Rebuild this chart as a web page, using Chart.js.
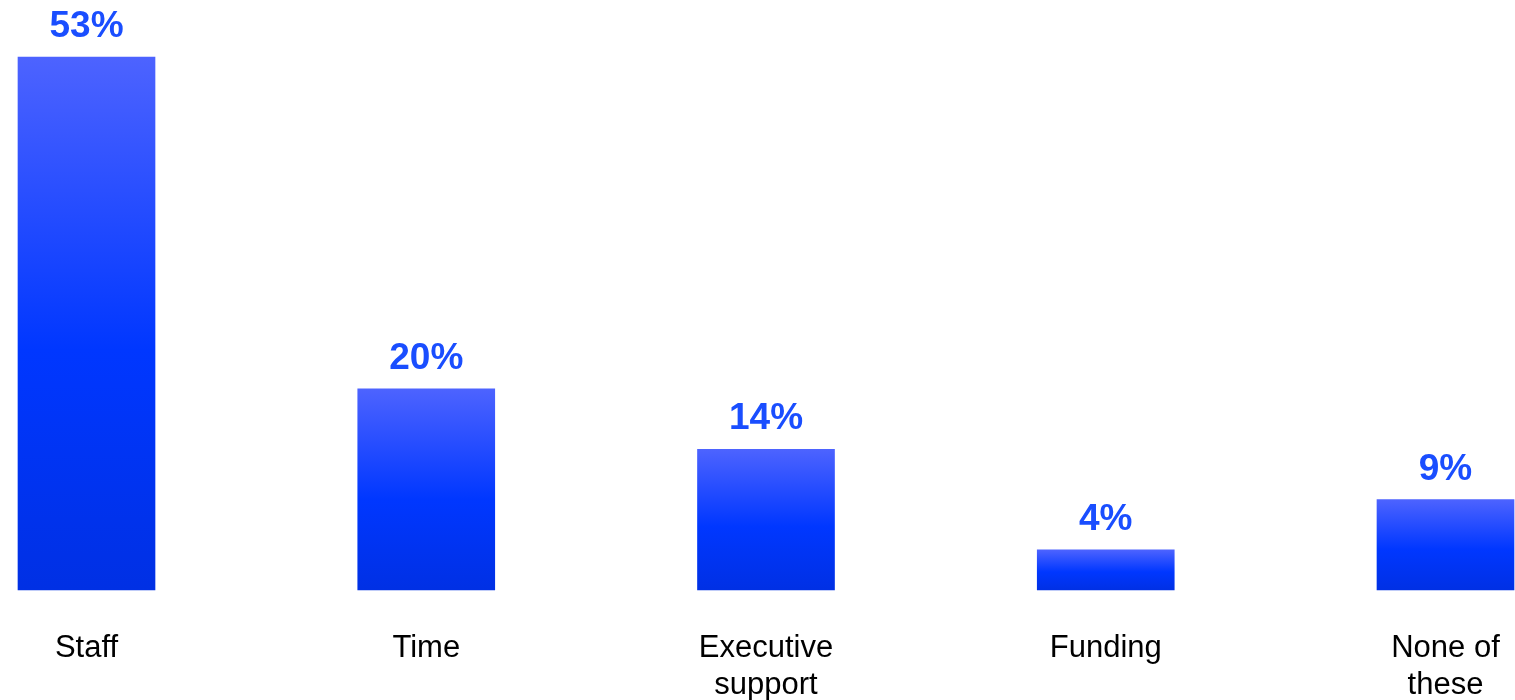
<!DOCTYPE html>
<html>
<head>
<meta charset="utf-8">
<script src="https://cdn.jsdelivr.net/npm/chart.js@4.4.1/dist/chart.umd.min.js"></script>
<style>
  html, body { margin: 0; padding: 0; background: #ffffff; }
  #wrap { width: 1515px; height: 700px; }
</style>
</head>
<body>
<div id="wrap"><canvas id="chart" width="1515" height="700"></canvas></div>
<script>
// Share of respondents naming each resource as their biggest need
const categories = [["Staff"], ["Time"], ["Executive", "support"], ["Funding"], ["None of", "these"]];
const shares = [53, 20, 14, 4, 9];

const FONT = '"Liberation Sans", Arial, Helvetica, sans-serif';

// Vertical gradient spanning each bar, lighter at the top
function barGradient(ctx) {
  const chart = ctx.chart;
  const yScale = chart.scales.y;
  if (!chart.chartArea || !yScale || !ctx.parsed) return '#0033ff';
  const top = yScale.getPixelForValue(ctx.parsed.y);
  const base = yScale.getPixelForValue(0);
  if (!isFinite(top) || !isFinite(base) || top === base) return '#0033ff';
  const g = chart.ctx.createLinearGradient(0, top, 0, base);
  g.addColorStop(0, '#4d63ff');
  g.addColorStop(0.55, '#0037ff');
  g.addColorStop(1, '#0030e4');
  return g;
}

// Percent labels above each bar
const valueLabels = {
  id: 'valueLabels',
  afterDatasetsDraw(chart) {
    const { ctx } = chart;
    const meta = chart.getDatasetMeta(0);
    ctx.save();
    ctx.font = 'bold 37px ' + FONT;
    ctx.fillStyle = '#1a4eff';
    ctx.textAlign = 'center';
    ctx.textBaseline = 'alphabetic';
    meta.data.forEach((bar, i) => {
      ctx.fillText(shares[i] + '%', bar.x, bar.y - 20);
    });
    ctx.restore();
  }
};

new Chart(document.getElementById('chart'), {
  type: 'bar',
  data: {
    labels: categories,
    datasets: [{
      data: shares,
      backgroundColor: barGradient,
      borderWidth: 0,
      barThickness: 137,
      clip: false
    }]
  },
  options: {
    responsive: false,
    maintainAspectRatio: false,
    animation: false,
    layout: { padding: { left: 86.5, right: 69.5, top: 37, bottom: 0 } },
    plugins: {
      legend: { display: false },
      tooltip: { enabled: false }
    },
    scales: {
      x: {
        offset: false,
        grid: { display: false, drawTicks: false },
        border: { display: false },
        ticks: {
          color: '#000000',
          padding: 40,
          maxRotation: 0,
          autoSkip: false,
          font: { family: FONT, size: 31, lineHeight: 1.2 }
        },
        afterFit(scale) {
          scale.height = 110;
          // edge labels fit inside the layout padding already
          scale.paddingLeft = 0;
          scale.paddingRight = 0;
        }
      },
      y: {
        display: false,
        min: 0,
        max: 55
      }
    }
  },
  plugins: [valueLabels]
});
</script>
</body>
</html>
